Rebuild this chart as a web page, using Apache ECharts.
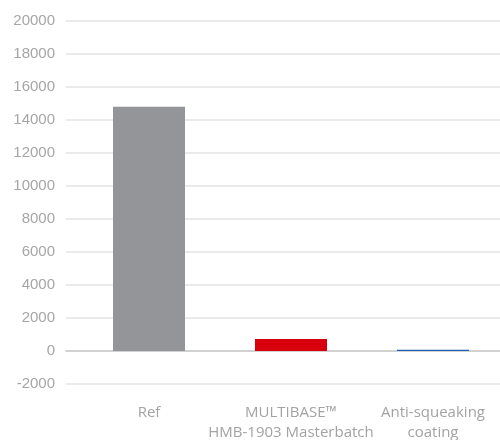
<!DOCTYPE html>
<html>
<head>
<meta charset="utf-8">
<script src="https://cdn.jsdelivr.net/npm/echarts@6/dist/echarts.min.js"></script>
<style>
html,body{margin:0;padding:0;background:#fff;}
#chart{width:500px;height:440px;}
</style>
</head>
<body>
<div id="chart"></div>
<script>
var categories = ['Ref', 'MULTIBASE\u2122\nHMB-1903 Masterbatch', 'Anti-squeaking\ncoating'];
var values = [14800, 720, 80];
var barColors = ['#939598', '#d9000d', '#1f5fb5'];
var yMin = -2000, yMax = 20000, yStep = 2000;

var chart = echarts.init(document.getElementById('chart'));
chart.setOption({
  animation: false,
  grid: [
    {left: 66, right: 0, top: 21, bottom: 56, outerBoundsMode: 'none', containLabel: false},
    {left: 78, right: -4, top: 21, bottom: 56, outerBoundsMode: 'none', containLabel: false}
  ],
  xAxis: [
    {gridIndex: 0, type: 'category', data: categories,
     axisLine: {show: true, onZero: true, lineStyle: {color: '#c9c9c9', width: 1.5}},
     axisTick: {show: false}, axisLabel: {show: false}},
    {gridIndex: 1, type: 'category', data: categories,
     axisLine: {show: false, onZero: false}, axisTick: {show: false},
     axisLabel: {interval: 0, margin: 19, color: '#a3a3a3', fontFamily: 'Open Sans', fontSize: 15, lineHeight: 20}}
  ],
  yAxis: [
    {gridIndex: 0, type: 'value', min: yMin, max: yMax, interval: yStep,
     axisLine: {show: false}, axisTick: {show: false},
     axisLabel: {margin: 11, color: '#a6a6a6', fontFamily: 'Liberation Sans', fontSize: 15,
                 formatter: function (v) { return String(v); }},
     splitLine: {lineStyle: {color: '#e3e3e3', width: 1.5}}},
    {gridIndex: 1, type: 'value', min: yMin, max: yMax, interval: yStep,
     show: false, splitLine: {show: false}}
  ],
  series: [{
    type: 'bar', xAxisIndex: 1, yAxisIndex: 1, barWidth: 72,
    data: values.map(function (v, i) { return {value: v, itemStyle: {color: barColors[i]}}; })
  }]
});
</script>
</body>
</html>
